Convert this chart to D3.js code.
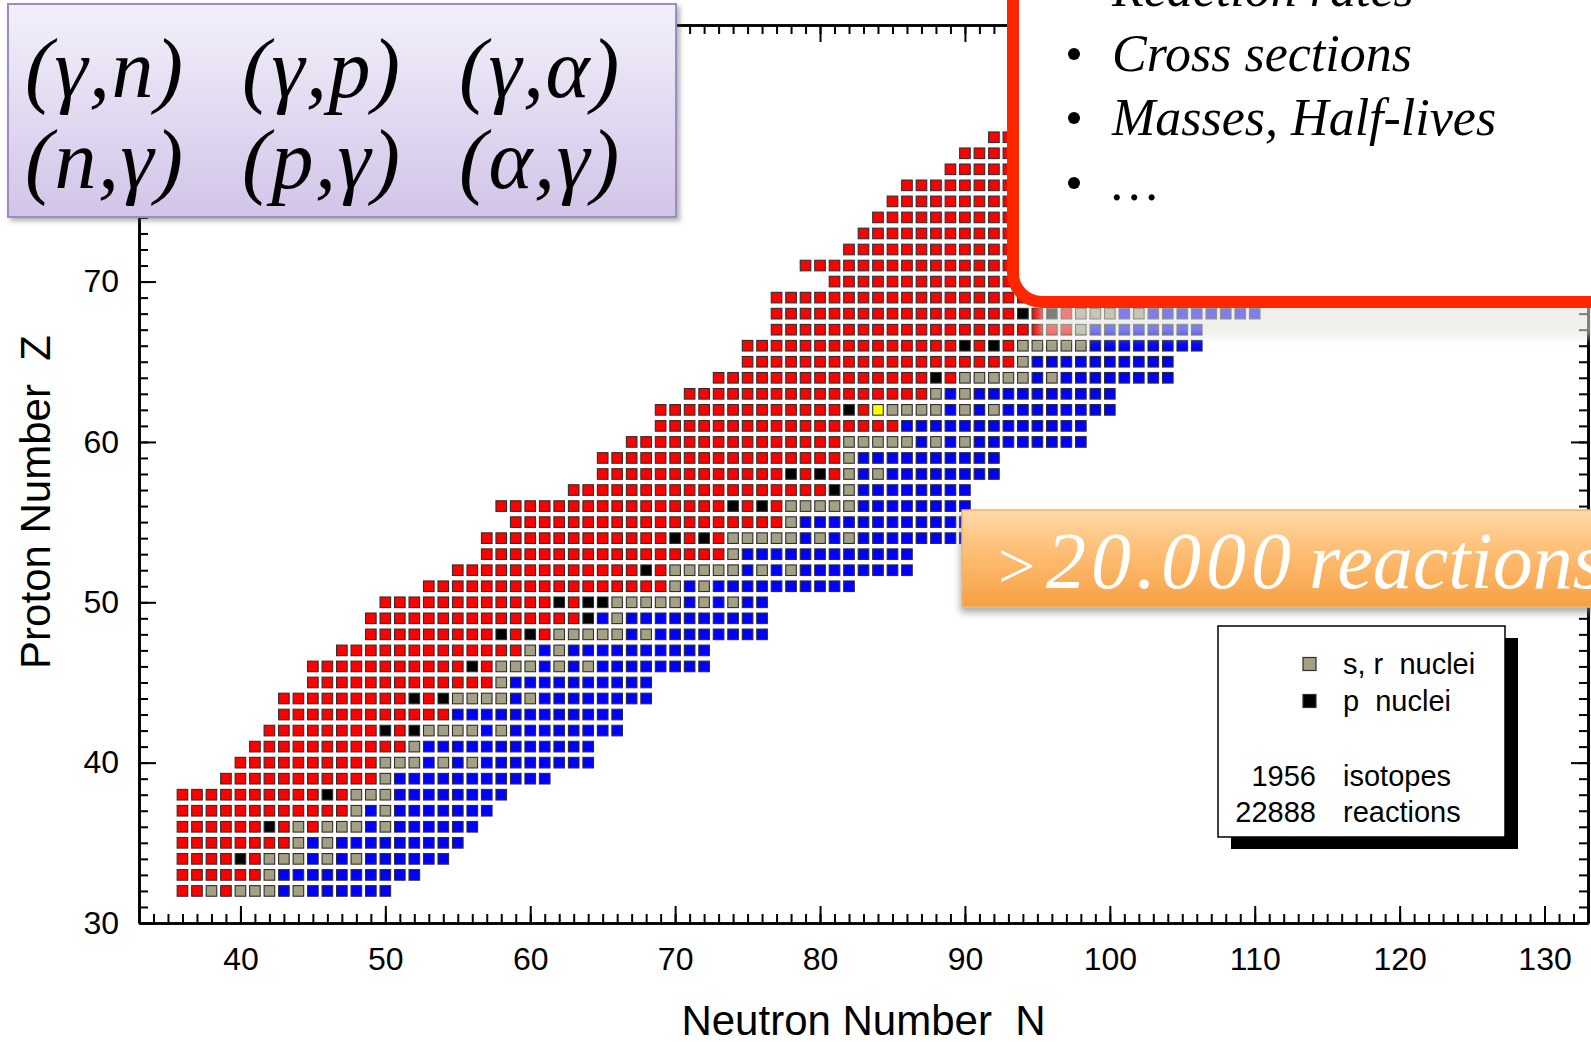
<!DOCTYPE html>
<html>
<head>
<meta charset="utf-8">
<script src="https://cdn.jsdelivr.net/npm/d3@7"></script>
<style>
  html, body { margin: 0; padding: 0; background: #fff; }
  svg { display: block; }
</style>
</head>
<body>
<svg id="chart" width="1591" height="1042"></svg>
<script>
// ---- Network data -------------------------------------------------------
// One row per element: proton number, first neutron number in the network,
// and the row content as run-length tokens (count + kind).
// kinds: r proton-rich, b neutron-rich, s s,r nuclei, p p nuclei, y 146Sm
const protonNumbers = [32, 33, 34, 35, 36, 37, 38, 39, 40, 41, 42, 43, 44, 45, 46, 47,
  48, 49, 50, 51, 52, 53, 54, 55, 56, 57, 58, 59, 60, 61, 62, 63, 64, 65, 66, 67, 68,
  69, 70, 71, 72, 73, 74, 75, 76, 77, 78, 79];
const firstNeutron = [36, 36, 36, 36, 36, 36, 36, 39, 40, 41, 42, 43, 43, 45, 45, 47,
  49, 49, 50, 53, 55, 57, 57, 59, 58, 63, 65, 65, 67, 69, 69, 71, 73, 75, 75, 77, 77,
  77, 81, 79, 82, 83, 84, 85, 86, 89, 90, 92];
const rowRuns = [
  "2r s r 3s b s 6b",            // Ge
  "6r s 10b",                    // As
  "4r p r 3s b s b s 6b",        // Se
  "8r s b s 9b",                 // Br
  "6r p r s r 3s b s 6b",        // Kr
  "12r s b s 7b",                // Rb
  "10r p r 3s 8b",               // Sr
  "11r s 11b",                   // Y
  "10r 3s b s b s 8b",           // Zr
  "11r s 12b",                   // Nb
  "8r p r p 4s b s 8b",          // Mo
  "12r 12b",                     // Tc
  "9r p r p 4s b s 8b",          // Ru
  "13r s 10b",                   // Rh
  "11r p r 3s b s b s 8b",       // Pd
  "13r s b s 10b",               // Ag
  "9r p r p r 5s b s 8b",        // Cd
  "15r p b s 10b",               // In
  "12r p r p p 5s b s b s 2b",   // Sn
  "17r s b s 10b",               // Sb
  "13r p r 5s b s b s 8b",       // Te
  "17r s 12b",                   // I
  "13r p r p r 5s b s b s 8b",   // Xe
  "19r s 12b",                   // Cs
  "16r p r p r 5s 8b",           // Ba
  "18r p s 8b",                  // La
  "13r p r p r s b s 8b",        // Ce
  "17r s 10b",                   // Pr
  "15r 5s b s b s 8b",           // Nd
  "17r 13b",                     // Pm
  "13r p r y 4s b s b s 8b",     // Sm
  "17r s b s 10b",               // Eu
  "15r p r 5s b s 8b",           // Gd
  "19r s 10b",                   // Tb
  "15r p r p r 5s 8b",           // Dy
  "21r s 8b",                    // Ho
  "17r p r p r 3s b s 8b",       // Er
  "23r s 10b",                   // Tm
  "17r p r 5s b s 6b",           // Yb
  "25r s 8b",                    // Lu
  "20r p r 5s 6b",               // Hf
  "25r p s 5b",                  // Ta
  "22r p r 3s b s 4b",           // W
  "25r s b s 4b",                // Re
  "22r p r 5s b s 2b",           // Os
  "25r s b s 2b",                // Ir
  "22r p r 5s b s",              // Pt
  "26r s 2b"                     // Au
];
const kindColors = { r: "#ff0000", b: "#0000ff", s: "#a3a084", p: "#000000", y: "#ffff00" };

// ---- Axes -----------------------------------------------------------------
const neutronDomain = [33, 133];
const protonDomain = [30, 86];
const xMajorTicks = [40, 50, 60, 70, 80, 90, 100, 110, 120, 130];
const yMajorTicks = [30, 40, 50, 60, 70, 80];
const yLabelled = [30, 40, 50, 60, 70];
const xMinorTicks = d3.range(34, 133);
const yMinorTicks = d3.range(31, 86);

// ---- Annotations ------------------------------------------------------------
const legendItems = [{ kind: "s", label: "s, r  nuclei" }, { kind: "p", label: "p  nuclei" }];
const networkCounts = [{ value: "1956", label: "isotopes" }, { value: "22888", label: "reactions" }];
const reactionLabels = [["(γ,n)", "(γ,p)", "(γ,α)"], ["(n,γ)", "(p,γ)", "(α,γ)"]];
const inputList = ["Reaction rates", "Cross sections", "Masses, Half-lives", "…"];
const bannerParts = [">", "20.000", "reactions"];

// ---------------------------------------------------------------------------
const svg = d3.select("#chart");
const SANS = "'Liberation Sans', Arial, sans-serif";
const SERIF = "'Liberation Serif', 'Times New Roman', serif";

const x = d3.scaleLinear().domain(neutronDomain).range([139, 1588]);
const y = d3.scaleLinear().domain(protonDomain).range([923, 25]);

const defs = svg.append("defs");
const purpleGrad = defs.append("linearGradient").attr("id", "purpleGrad")
  .attr("x1", 0).attr("y1", 0).attr("x2", 0).attr("y2", 1);
purpleGrad.append("stop").attr("offset", "0%").attr("stop-color", "#f3f0fa");
purpleGrad.append("stop").attr("offset", "100%").attr("stop-color", "#d2c4e8");

const orangeGrad = defs.append("linearGradient").attr("id", "orangeGrad")
  .attr("x1", 0).attr("y1", 0).attr("x2", 0).attr("y2", 1);
orangeGrad.append("stop").attr("offset", "0%").attr("stop-color", "#ffd9a8");
orangeGrad.append("stop").attr("offset", "45%").attr("stop-color", "#fdbd72");
orangeGrad.append("stop").attr("offset", "100%").attr("stop-color", "#f7a043");

const soft = defs.append("filter").attr("id", "soft")
  .attr("x", "-20%").attr("y", "-60%").attr("width", "140%").attr("height", "220%");
soft.append("feGaussianBlur").attr("stdDeviation", 4);

const shadowSmall = defs.append("filter").attr("id", "shadowSmall")
  .attr("x", "-5%").attr("y", "-5%").attr("width", "115%").attr("height", "120%");
shadowSmall.append("feDropShadow").attr("dx", 3).attr("dy", 3).attr("stdDeviation", 2.5)
  .attr("flood-color", "#555").attr("flood-opacity", 0.45);

const shadowBanner = defs.append("filter").attr("id", "shadowBanner")
  .attr("x", "-5%").attr("y", "-10%").attr("width", "115%").attr("height", "140%");
shadowBanner.append("feDropShadow").attr("dx", -1).attr("dy", 5).attr("stdDeviation", 3.5)
  .attr("flood-color", "#777").attr("flood-opacity", 0.6);

// ---- axis frame -------------------------------------------------------------
function styleAxis(g) {
  g.select(".domain").attr("stroke", "#000").attr("stroke-width", 2.6);
  g.selectAll(".tick line").attr("stroke", "#000").attr("stroke-width", 2);
  g.selectAll(".tick text").attr("fill", "#000");
  g.attr("font-family", SANS);
}

const axes = svg.append("g").attr("class", "axes");
// minor ticks on all four sides (pointing inward)
axes.append("g").attr("transform", `translate(0,${y(30)})`)
  .call(d3.axisBottom(x).tickValues(xMinorTicks).tickSize(-9).tickSizeOuter(0).tickFormat(""))
  .call(styleAxis);
axes.append("g").attr("transform", `translate(0,${y(86)})`)
  .call(d3.axisTop(x).tickValues(xMinorTicks).tickSize(-9).tickSizeOuter(0).tickFormat(""))
  .call(styleAxis);
axes.append("g").attr("transform", `translate(${x(33)},0)`)
  .call(d3.axisLeft(y).tickValues(yMinorTicks).tickSize(-9).tickSizeOuter(0).tickFormat(""))
  .call(styleAxis);
axes.append("g").attr("transform", `translate(${x(133)},0)`)
  .call(d3.axisRight(y).tickValues(yMinorTicks).tickSize(-9).tickSizeOuter(0).tickFormat(""))
  .call(styleAxis);

// major ticks with labels
axes.append("g").attr("transform", `translate(0,${y(30)})`)
  .call(d3.axisBottom(x).tickValues(xMajorTicks).tickSize(-17).tickSizeOuter(0).tickPadding(24))
  .call(styleAxis)
  .call(g => g.selectAll(".tick text").attr("font-size", 32));
axes.append("g").attr("transform", `translate(0,${y(86)})`)
  .call(d3.axisTop(x).tickValues(xMajorTicks).tickSize(-17).tickSizeOuter(0).tickFormat(""))
  .call(styleAxis);
axes.append("g").attr("transform", `translate(${x(33)},0)`)
  .call(d3.axisLeft(y).tickValues(yMajorTicks).tickSize(-17).tickSizeOuter(0).tickFormat(""))
  .call(styleAxis);
axes.append("g").attr("transform", `translate(${x(33)},0)`)
  .call(d3.axisLeft(y).tickValues(yLabelled).tickSize(0).tickSizeOuter(0).tickPadding(20))
  .call(styleAxis)
  .call(g => g.select(".domain").remove())
  .call(g => g.selectAll(".tick text").attr("font-size", 32));
axes.append("g").attr("transform", `translate(${x(133)},0)`)
  .call(d3.axisRight(y).tickValues(yMajorTicks).tickSize(-17).tickSizeOuter(0).tickFormat(""))
  .call(styleAxis);

// axis titles
svg.append("text")
  .attr("x", (x(33) + x(133)) / 2).attr("y", 1035)
  .attr("text-anchor", "middle").attr("font-family", SANS).attr("font-size", 42)
  .style("white-space", "pre")
  .text("Neutron Number  N");
svg.append("text")
  .attr("transform", "translate(50,502) rotate(-90)")
  .attr("text-anchor", "middle").attr("font-family", SANS).attr("font-size", 42)
  .style("white-space", "pre")
  .text("Proton Number  Z");

// ---- nuclide cells ------------------------------------------------------------
const cells = [];
protonNumbers.forEach((z, i) => {
  let n = firstNeutron[i];
  rowRuns[i].split(" ").forEach(tok => {
    const m = tok.match(/^(\d*)([a-z])$/);
    const count = m[1] ? +m[1] : 1;
    for (let k = 0; k < count; k++) cells.push({ z, n: n++, kind: m[2] });
  });
});

svg.append("g").attr("class", "cells")
  .selectAll("rect").data(cells).join("rect")
  .attr("x", d => x(d.n) - 5.3)
  .attr("y", d => y(d.z) - 5.3)
  .attr("width", 10.6).attr("height", 10.6)
  .attr("fill", d => kindColors[d.kind])
  .attr("stroke", "#2f2f2f").attr("stroke-width", 1.1);

// soft haze below the info panel
svg.append("rect")
  .attr("x", 1038).attr("y", 298).attr("width", 600).attr("height", 40)
  .attr("fill", "#e3e5dd").attr("opacity", 0.55).attr("filter", "url(#soft)");

// ---- reaction types panel -------------------------------------------------------
svg.append("rect")
  .attr("x", 8).attr("y", 4).attr("width", 668).attr("height", 213)
  .attr("fill", "url(#purpleGrad)").attr("stroke", "#9d8bc4").attr("stroke-width", 2)
  .attr("filter", "url(#shadowSmall)");
const colX = [25, 242, 459];
const rowBase = [97, 188];
reactionLabels.forEach((row, ri) => {
  row.forEach((lab, ci) => {
    svg.append("text")
      .attr("x", colX[ci]).attr("y", rowBase[ri])
      .attr("font-family", SERIF).attr("font-style", "italic").attr("font-size", 84)
      .attr("letter-spacing", 1.5)
      .attr("fill", "#000")
      .text(lab);
  });
});

// ---- nuclear input panel ----------------------------------------------------------
svg.append("rect")
  .attr("x", 1013).attr("y", -60).attr("width", 700).attr("height", 362)
  .attr("rx", 29).attr("ry", 29)
  .attr("fill", "#fff").attr("stroke", "#ff2600").attr("stroke-width", 12);
const listBase = [6, 71, 135, 200];
inputList.forEach((item, i) => {
  svg.append("circle").attr("cx", 1074).attr("cy", listBase[i] - 17).attr("r", 6).attr("fill", "#000");
  svg.append("text")
    .attr("x", 1112).attr("y", listBase[i])
    .attr("font-family", SERIF).attr("font-style", "italic").attr("font-size", 52)
    .attr("fill", "#000")
    .text(item);
});

// ---- banner -------------------------------------------------------------------------
svg.append("rect")
  .attr("x", 962).attr("y", 510).attr("width", 700).attr("height", 97)
  .attr("fill", "url(#orangeGrad)").attr("stroke", "#f4b46c").attr("stroke-width", 1.5)
  .attr("filter", "url(#shadowBanner)");
const bannerX = [994, 1046, 1309];
const bannerSize = [66, 80, 80];
const bannerSpacing = [0, 5, 0];
bannerParts.forEach((part, i) => {
  svg.append("text")
    .attr("x", bannerX[i]).attr("y", 588)
    .attr("font-family", SERIF).attr("font-style", "italic").attr("font-size", bannerSize[i])
    .attr("letter-spacing", bannerSpacing[i])
    .attr("fill", "#fff")
    .text(part);
});

// ---- legend ---------------------------------------------------------------------------
const lg = svg.append("g").attr("class", "legend");
lg.append("rect").attr("x", 1231).attr("y", 638).attr("width", 287).attr("height", 211).attr("fill", "#000");
lg.append("rect").attr("x", 1218).attr("y", 626).attr("width", 287).attr("height", 211)
  .attr("fill", "#fff").attr("stroke", "#000").attr("stroke-width", 1.5);
const legendY = [664, 701];
legendItems.forEach((it, i) => {
  lg.append("rect").attr("x", 1303).attr("y", legendY[i] - 6.5).attr("width", 13).attr("height", 13)
    .attr("fill", kindColors[it.kind]).attr("stroke", "#2f2f2f").attr("stroke-width", 1.2);
  lg.append("text").attr("x", 1343).attr("y", legendY[i]).attr("dy", "0.35em")
    .attr("font-family", SANS).attr("font-size", 29).style("white-space", "pre")
    .text(it.label);
});
const countY = [776, 812];
networkCounts.forEach((it, i) => {
  lg.append("text").attr("x", 1316).attr("y", countY[i]).attr("dy", "0.35em")
    .attr("text-anchor", "end").attr("font-family", SANS).attr("font-size", 29)
    .text(it.value);
  lg.append("text").attr("x", 1343).attr("y", countY[i]).attr("dy", "0.35em")
    .attr("font-family", SANS).attr("font-size", 29)
    .text(it.label);
});
</script>
</body>
</html>
